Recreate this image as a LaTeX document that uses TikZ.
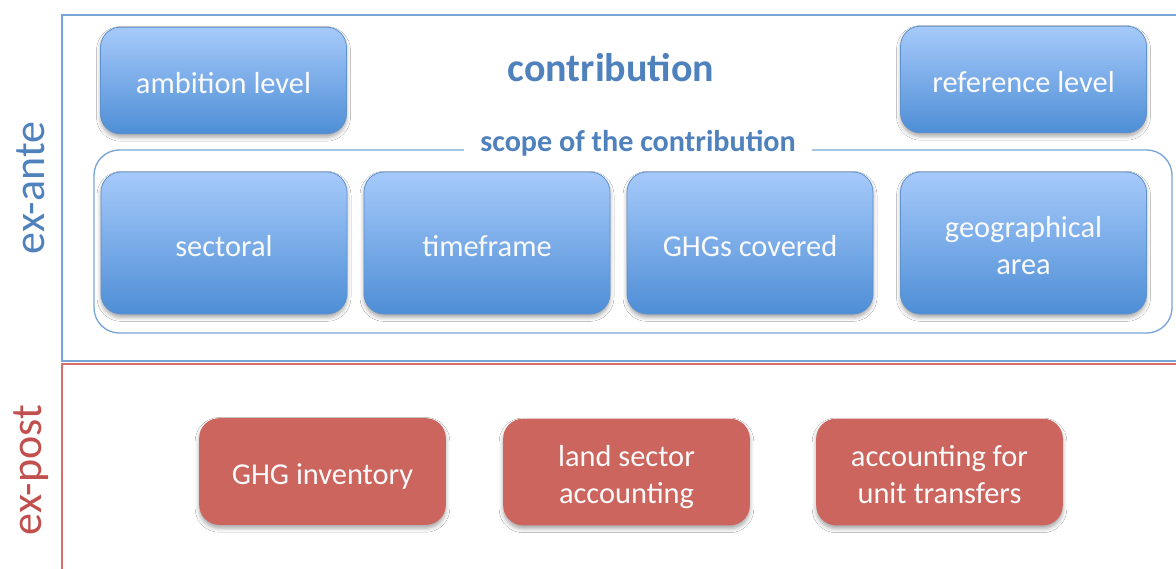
\documentclass[tikz,border=0pt]{standalone}
\usepackage{fontspec}
\setmainfont{Carlito}
\usetikzlibrary{shadows.blur}
\definecolor{antecol}{RGB}{79,129,189}
\definecolor{antefrm}{RGB}{120,165,215}
\definecolor{postcol}{RGB}{192,80,77}
\definecolor{postfrm}{RGB}{215,110,105}
\definecolor{boxtop}{RGB}{166,202,250}
\definecolor{boxbot}{RGB}{78,142,214}
\definecolor{boxrim}{RGB}{95,145,205}
\definecolor{redfill}{RGB}{203,101,94}
\definecolor{boxtext}{RGB}{250,250,250}
% box label: centred lines with uniform struts, set a little low in the box
\newcommand{\boxlabel}[1]{\raisebox{-4.5pt}[\height][\depth]{\begin{tabular}{@{}c@{}}#1\end{tabular}}}
\tikzset{
  panel/.style={line width=1.3pt},
  bluebox/.style={rounded corners=15pt, top color=boxtop, bottom color=boxbot,
    draw=boxrim, line width=0.6pt, text=boxtext, inner sep=0pt,
    font=\fontsize{22.8}{27.8}\selectfont, minimum width=184.5pt,
    blur shadow={shadow xshift=0pt, shadow yshift=-2.5pt, shadow blur radius=3pt, shadow opacity=35}},
  redbox/.style={rounded corners=15pt, fill=redfill, text=boxtext, inner sep=0pt,
    font=\fontsize{22.8}{27.8}\selectfont, minimum width=185pt, minimum height=80pt,
    blur shadow={shadow xshift=0pt, shadow yshift=-2.5pt, shadow blur radius=3pt, shadow opacity=35}},
  sidelabel/.style={rotate=90, font=\fontsize{33}{36}\selectfont}
}
\begin{document}
\begin{tikzpicture}[x=0.75pt, y=-0.75pt]
\useasboundingbox (0,0) rectangle (1176,568);
\clip (0,0) rectangle (1176,568);
\fill[white] (0,0) rectangle (1176,568);

% the two phases
\draw[panel, draw=antefrm] (62,15) rectangle (1185,361);
\draw[panel, draw=postfrm] (62,364) rectangle (1185,580);
\node[sidelabel, text=antecol] (ante) at (31,188) {ex-ante};
\node[sidelabel, text=postcol] (post) at (31,470) {ex-post};

% ex-ante content
\node[bluebox, minimum height=80pt] (ambition) at (223.5,80.5) {\boxlabel{ambition level}};
\node[bluebox, minimum height=80pt] (reference) at (1023.5,79.5) {\boxlabel{reference level}};
\node[text=antecol, font=\fontsize{30}{34}\selectfont\bfseries] (contrib) at (611,68) {contribution};

\draw[line width=1pt, draw=antefrm, rounded corners=19pt] (94,150) rectangle (1172,333);
\node[fill=white, inner xsep=12pt, text=antecol, font=\fontsize{22.6}{26}\selectfont\bfseries] (scope) at (638,143) {scope of the contribution};

\node[bluebox, minimum height=106.5pt] (sectoral) at (224,243) {\boxlabel{sectoral}};
\node[bluebox, minimum height=106.5pt] (timeframe) at (487,243) {\boxlabel{timeframe}};
\node[bluebox, minimum height=106.5pt] (ghgs) at (750,243) {\boxlabel{GHGs covered}};
\node[bluebox, minimum height=106.5pt] (geo) at (1023.5,243) {\boxlabel{geographical\\area}};

% ex-post content
\node[redbox] (inventory) at (322.5,471.5) {\boxlabel{GHG inventory}};
\node[redbox] (land) at (626.5,472) {\boxlabel{land sector\\accounting}};
\node[redbox] (transfers) at (939.5,472) {\boxlabel{accounting for\\unit transfers}};
\end{tikzpicture}
\end{document}
